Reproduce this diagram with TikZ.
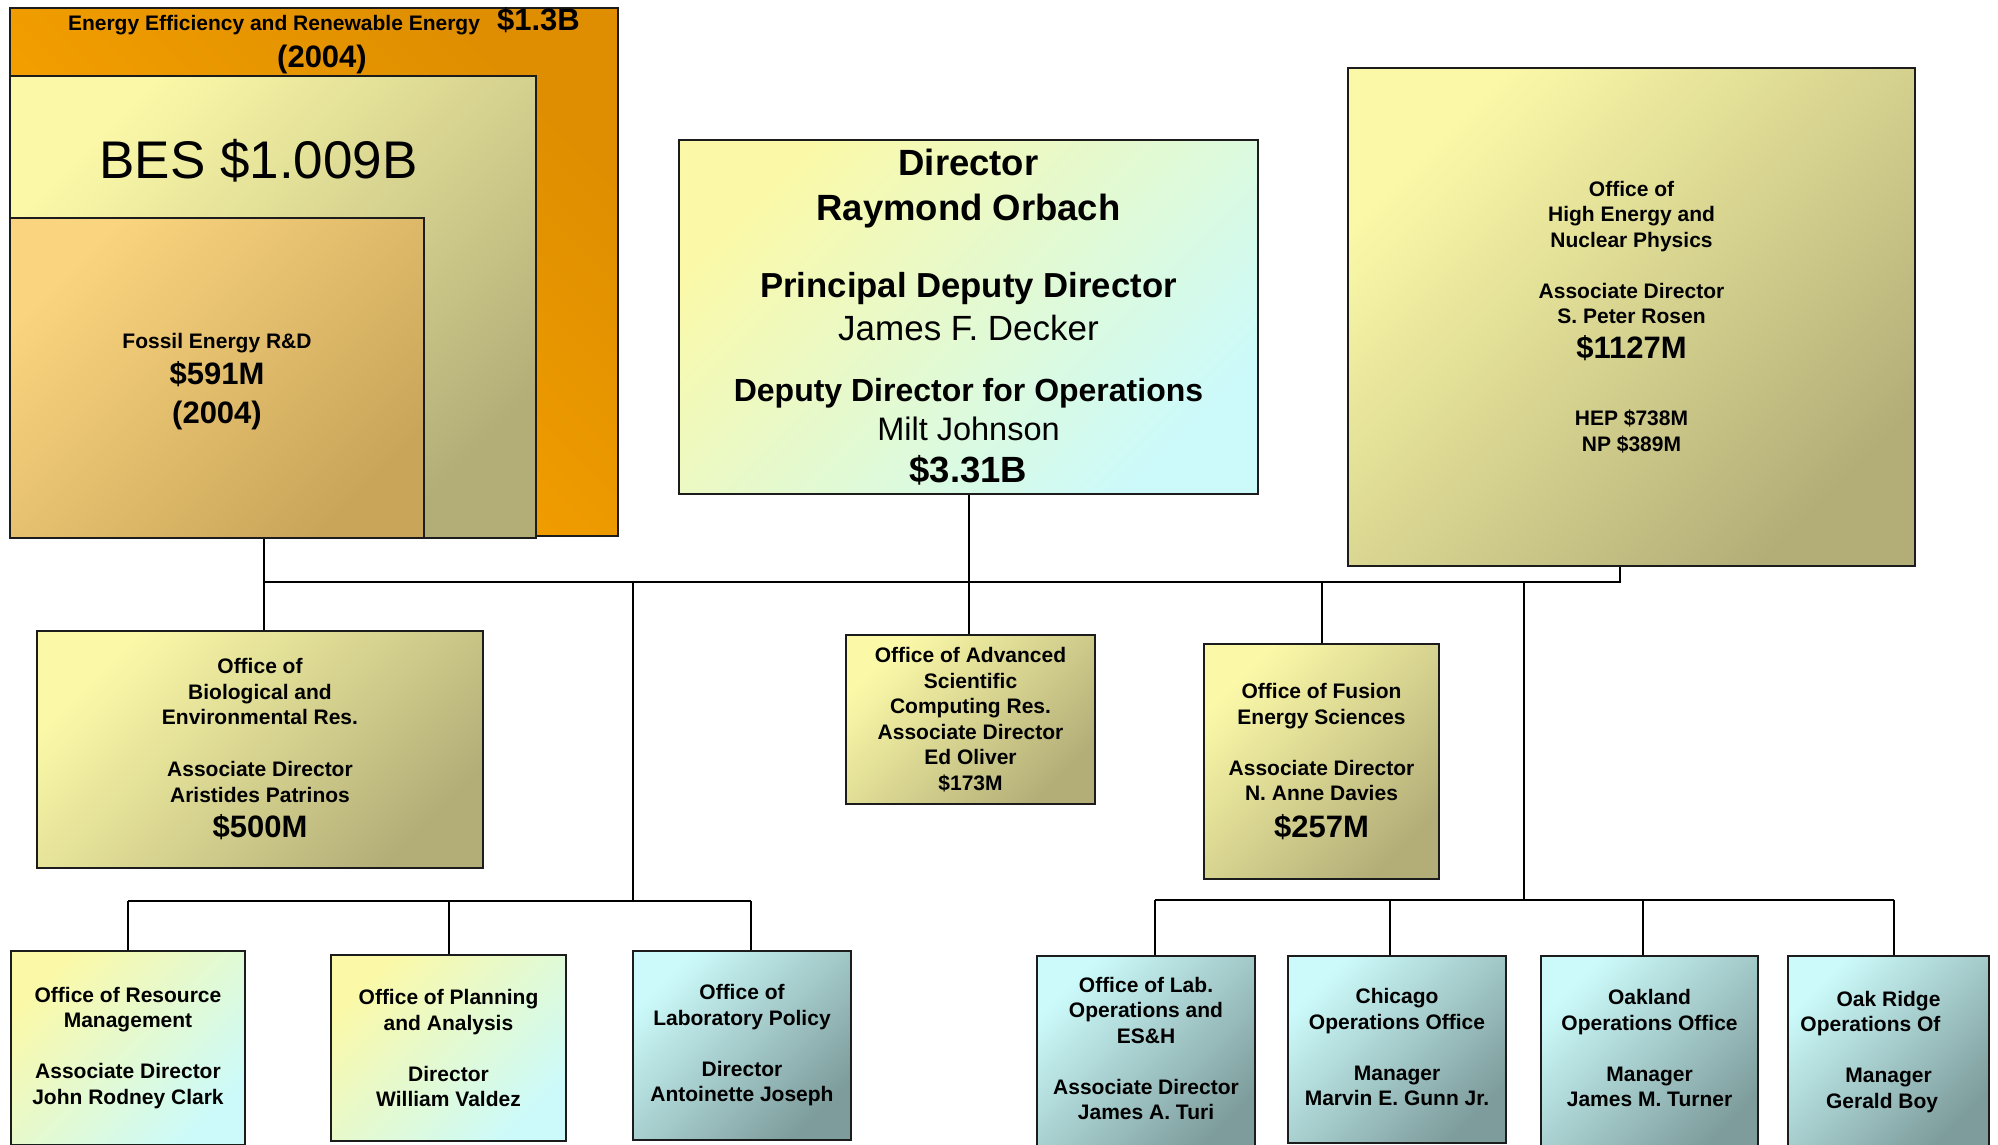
\documentclass[tikz,border=0pt]{standalone}
\usepackage{fontspec}
\setmainfont{Liberation Sans}
\usetikzlibrary{positioning}
\definecolor{edge}{HTML}{1C1C1C}
\definecolor{paleyellow}{HTML}{FBF9A8}
\definecolor{olive}{HTML}{B3AE78}
\definecolor{palecyan}{HTML}{CCFAFA}
\definecolor{slate}{HTML}{7E9C9C}
\definecolor{eerelight}{HTML}{FFA800}
\definecolor{eeredark}{HTML}{DE8E00}
\definecolor{fossiltop}{HTML}{FAD47E}
\definecolor{fossilbot}{HTML}{C9A55A}
\newcommand{\Amount}[1]{{\fontsize{31}{26}\selectfont #1}}
\newcommand{\Tail}[1]{\rule[-#1]{0pt}{#1}}
\tikzset{
    orgbox/.style={rectangle, draw=edge, line width=2pt, inner sep=0pt, align=center,
      font={\bfseries\fontsize{21}{25.5}\selectfont\lineskiplimit=-100pt}},
    olivebox/.style={orgbox, top color=paleyellow, bottom color=olive, shading angle=45},
    mintbox/.style={orgbox, top color=paleyellow, bottom color=palecyan, shading angle=45},
    slatebox/.style={orgbox, top color=palecyan, bottom color=slate, shading angle=45},
    wire/.style={line width=2pt},
    caption/.style={anchor=base, inner sep=0pt, font=\bfseries\fontsize{21}{25.5}\selectfont},
}

\begin{document}
\begin{tikzpicture}[x=1pt, y=-1pt]
    \useasboundingbox (0,0) rectangle (1998,1145);

    \node[orgbox, top color=eeredark, middle color=eerelight, bottom color=eerelight, shading angle=-45,
      minimum width=608pt, minimum height=528pt] (eere) at (314,272) {};
    \node[orgbox, top color=paleyellow, bottom color=olive, shading angle=45,
      minimum width=526pt, minimum height=462pt] (bes) at (273,307) {};
    \node[orgbox, top color=fossiltop, bottom color=fossilbot, shading angle=45,
      minimum width=414pt, minimum height=320pt] (fossil) at (217,378) {};

    \node[caption] (eerename) at (274,30.5) {Energy Efficiency and Renewable Energy};
    \node[caption] (eereamount) at (538.5,31) {\Amount{\$1.3B}};
    \node[caption] (eereyear) at (322,68) {\Amount{(2004)}};
    \node[caption, font=\fontsize{53}{60}\selectfont] (besamount) at (258.5,178.7) {BES \$1.009B};
    \node[caption] (fossilname) at (217,348.5) {Fossil Energy R\&D};
    \node[caption] (fossilamount) at (217,384) {\Amount{\$591M}};
    \node[caption] (fossilyear) at (217,423) {\Amount{(2004)}};

    \node[mintbox, minimum width=579pt, minimum height=354pt,
      font={\bfseries\fontsize{32}{38}\selectfont\lineskiplimit=-100pt}] (dir) at (968.5,317) {
      {\fontsize{36.5}{38}\selectfont Director}\\[7pt]
      {\fontsize{36.5}{38}\selectfont Raymond Orbach}\\[39.5pt]
      {\fontsize{34.7}{38}\selectfont Principal Deputy Director}\\[4.5pt]
      {\mdseries\fontsize{35}{38}\selectfont James F. Decker}\\[23.5pt]
      Deputy Director for Operations\\[0.5pt]
      {\mdseries\fontsize{32.5}{38}\selectfont Milt Johnson}\\[4pt]
      {\fontsize{36.5}{38}\selectfont \$3.31B}};

    \node[olivebox, minimum width=567pt, minimum height=498pt] (henp) at (1631.5,317) {
      Office of\\ High Energy and\\ Nuclear Physics\\[25.5pt]
      Associate Director\\ S. Peter Rosen\\[9pt]
      \Amount{\$1127M}\\[42pt]
      HEP \$738M\\ NP \$389M};

    \node[olivebox, minimum width=446pt, minimum height=237pt] (ber) at (260,749.5) {
      Office of\\ Biological and\\ Environmental Res.\\[26.5pt]
      Associate Director\\ Aristides Patrinos\\[10pt]
      \Amount{\$500M}};
    \node[olivebox, minimum width=249pt, minimum height=169pt] (ascr) at (970.5,719.5) {
      Office of Advanced\\ Scientific\\ Computing Res.\\ Associate Director\\ Ed Oliver\\ \$173M};
    \node[olivebox, minimum width=235pt, minimum height=235pt] (fes) at (1321.5,761.5) {
      Office of Fusion\\ Energy Sciences\\[25.5pt]
      Associate Director\\ N. Anne Davies\\[11pt]
      \Amount{\$257M}};

    \node[mintbox, minimum width=234pt, minimum height=194pt] (orm) at (128,1048) {
      Office of Resource\\ Management\\[25.5pt] Associate Director\\ John Rodney Clark};
    \node[mintbox, minimum width=235pt, minimum height=186pt] (opa) at (448.5,1048) {
      Office of Planning\\ and Analysis\\[25.5pt] Director\\ William Valdez};
    \node[slatebox, minimum width=218pt, minimum height=189pt] (olp) at (742,1045.5) {
      Office of\\ Laboratory Policy\\[25.5pt] Director\\ Antoinette Joseph};

    \node[slatebox, minimum width=218pt, minimum height=199pt] (olo) at (1146,1055.5) {
      Office of Lab.\\ Operations and\\ ES\&H\\[25.5pt] Associate Director\\ James A. Turi\Tail{14pt}};
    \node[slatebox, minimum width=218pt, minimum height=187pt] (chi) at (1397,1049.5) {
      Chicago\\ Operations Office\\[25.5pt] Manager\\ Marvin E. Gunn Jr.\Tail{5pt}};
    \node[slatebox, minimum width=217pt, minimum height=199pt] (oak) at (1649.5,1055.5) {
      Oakland\\ Operations Office\\[25.5pt] Manager\\ James M. Turner\Tail{15pt}};
    \node[slatebox, minimum width=201pt, minimum height=192pt] (orid) at (1888.5,1052) {
      Oak Ridge\\ \rlap{Operations Of}\phantom{Operations Office}\\[25.5pt]
      Manager\\ \rlap{Gerald Boy}\phantom{Gerald Boyd}};

    \coordinate (bus) at (0,582);
    \coordinate (fhub) at (264,582);
    \coordinate (htick) at (1620,582);
    \coordinate (lhub) at (633,582);
    \coordinate (lbar) at (633,901);
    \coordinate (rhub) at (1524,582);
    \coordinate (rbar) at (1524,900);

    \draw[wire] (fossil.south -| fhub) -- (fhub |- ber.north);
    \draw[wire] (fhub) -- (htick) -- (htick |- henp.south);
    \draw[wire] (dir.south) -- (dir.south |- ascr.north);
    \draw[wire] (fes.north |- bus) -- (fes.north);

    \draw[wire] (lhub) -- (lbar);
    \draw[wire] (orm.north |- lbar) -- ([xshift=9pt]olp.north |- lbar);
    \draw[wire] (orm.north |- lbar) -- (orm.north);
    \draw[wire] (opa.north |- lbar) -- (opa.north);
    \draw[wire] ([xshift=9pt]olp.north |- lbar) -- ([xshift=9pt]olp.north);

    \draw[wire] (rhub) -- (rbar);
    \draw[wire] ([xshift=9pt]olo.north |- rbar) -- ([xshift=5pt]orid.north |- rbar);
    \draw[wire] ([xshift=9pt]olo.north |- rbar) -- ([xshift=9pt]olo.north);
    \draw[wire] ([xshift=-7pt]chi.north |- rbar) -- ([xshift=-7pt]chi.north);
    \draw[wire] ([xshift=-7pt]oak.north |- rbar) -- ([xshift=-7pt]oak.north);
    \draw[wire] ([xshift=5pt]orid.north |- rbar) -- ([xshift=5pt]orid.north);
\end{tikzpicture}
\end{document}
